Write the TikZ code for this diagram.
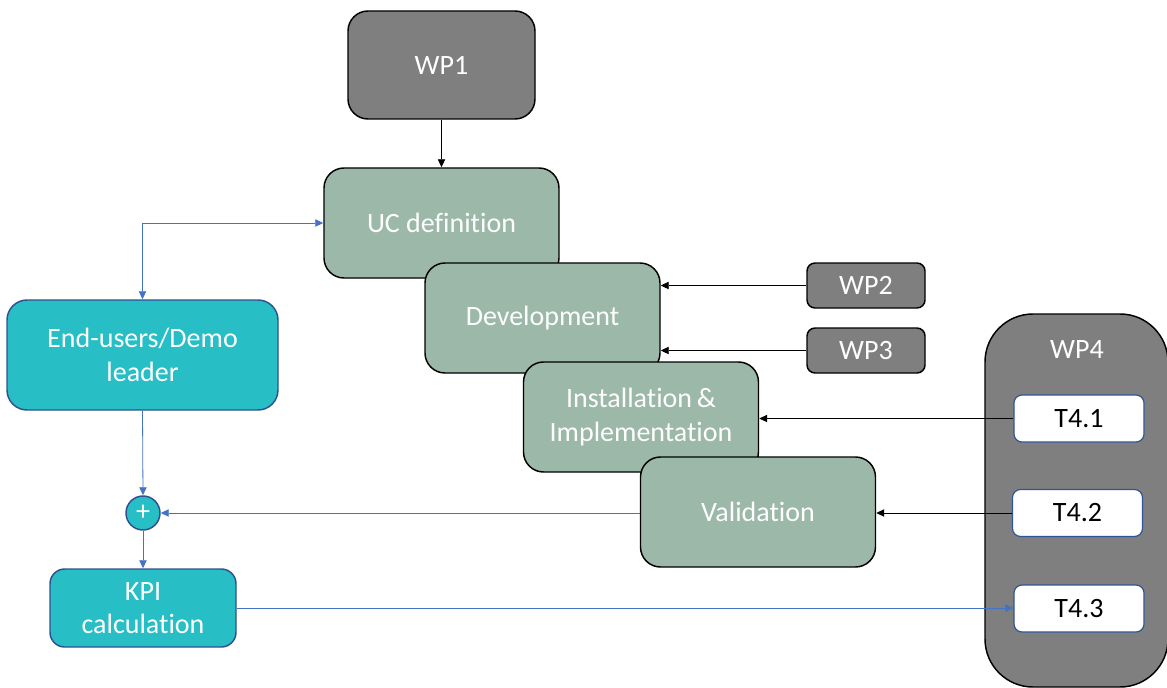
\documentclass[tikz,border=0pt]{standalone}
\usepackage{fontspec}
\setmainfont[Ligatures=NoCommon]{Carlito}
\usetikzlibrary{arrows.meta}
\definecolor{wpgray}{HTML}{7F7F7F}
\definecolor{ucgreen}{HTML}{9BB8A8}
\definecolor{teal}{HTML}{27BEC6}
\definecolor{tealedge}{HTML}{2F528F}
\definecolor{lineblue}{HTML}{4472C4}
\definecolor{tedge}{HTML}{2F5597}
\tikzset{
  base/.style={font=\fontsize{21}{25.2}\selectfont, align=center, inner sep=0pt, line width=1.1pt},
  wpbox/.style={base, draw=black, fill=wpgray, text=white, rounded corners=15pt},
  gbox/.style={base, draw=black, fill=ucgreen, text=white, rounded corners=15pt,
    minimum width=176.25pt, minimum height=82.5pt},
  tbox/.style={base, draw=tedge, fill=white, text=black, rounded corners=6pt,
    minimum width=97.5pt, minimum height=35.25pt, line width=0.9pt},
  cbox/.style={base, draw=tealedge, fill=teal, text=white, rounded corners=15pt},
  blk/.style={draw=black, line width=0.7pt, -{Triangle[length=6pt,width=5.5pt]}},
  blu/.style={draw=lineblue, line width=0.6pt, -{Triangle[length=6pt,width=5.5pt]}},
}
\begin{document}
\begin{tikzpicture}[x=0.75pt, y=-0.75pt]
\useasboundingbox (0,0) rectangle (1167,688);
% WP4 container
\node[wpbox, rounded corners=36pt, minimum width=137.25pt, minimum height=279.75pt] (wp4) at (1076.5,500.5) {};
\node[base, text=white] (wp4t) at (1077,350) {WP4};
\node[tbox] (t41) at (1079,418.5) {T4.1};
\node[tbox] (t42) at (1077.5,513) {T4.2};
\node[tbox] (t43) at (1079,608.5) {T4.3};
% WP boxes
\node[wpbox, minimum width=140.25pt, minimum height=81pt] (wp1) at (441.5,65) {WP1};
\node[wpbox, rounded corners=6pt, minimum width=88.5pt, minimum height=33.75pt] (wp2) at (866,285.5) {WP2};
\node[wpbox, rounded corners=6pt, minimum width=88.5pt, minimum height=33.75pt] (wp3) at (866,350.5) {WP3};
% green cascade
\node[gbox] (uc) at (441.5,223) {UC definition};
\node[gbox] (dev) at (542.5,318) {Development};
\node[gbox] (inst) at (641,417) {Installation\,\&\\Implementation};
\node[gbox] (val) at (758,512) {Validation};
% teal boxes
\node[cbox, minimum width=203.25pt, minimum height=82.5pt] (eu) at (142.5,355) {End-users/Demo\\leader};
\node[cbox, circle, minimum size=25.5pt] (plus) at (143,513) {+};
\node[cbox, rounded corners=11pt, minimum width=139.5pt, minimum height=58.5pt] (kpi) at (143,608) {KPI\\calculation};
% black connectors
\draw[blk] (wp1.south) -- (uc.north);
\draw[blk] (wp2.west) -- (wp2.west -| dev.east);
\draw[blk] (wp3.west) -- (wp3.west -| dev.east);
\draw[blk] (t41.west) -- (t41.west -| inst.east);
\draw[blk] (t42.west) -- (t42.west -| val.east);
% blue connectors
\draw[blu, {Triangle[length=6pt,width=5.5pt]}-{Triangle[length=6pt,width=5.5pt]}] (eu.north) |- (uc.west);
\draw[blu] (eu.south) -- (plus.north);
\draw[blu] (plus.south) -- (kpi.north);
\draw[blu] (plus.east -| val.west) -- (plus.east);
\draw[blu] (kpi.east) -- (kpi.east -| t43.west);
\end{tikzpicture}
\end{document}
